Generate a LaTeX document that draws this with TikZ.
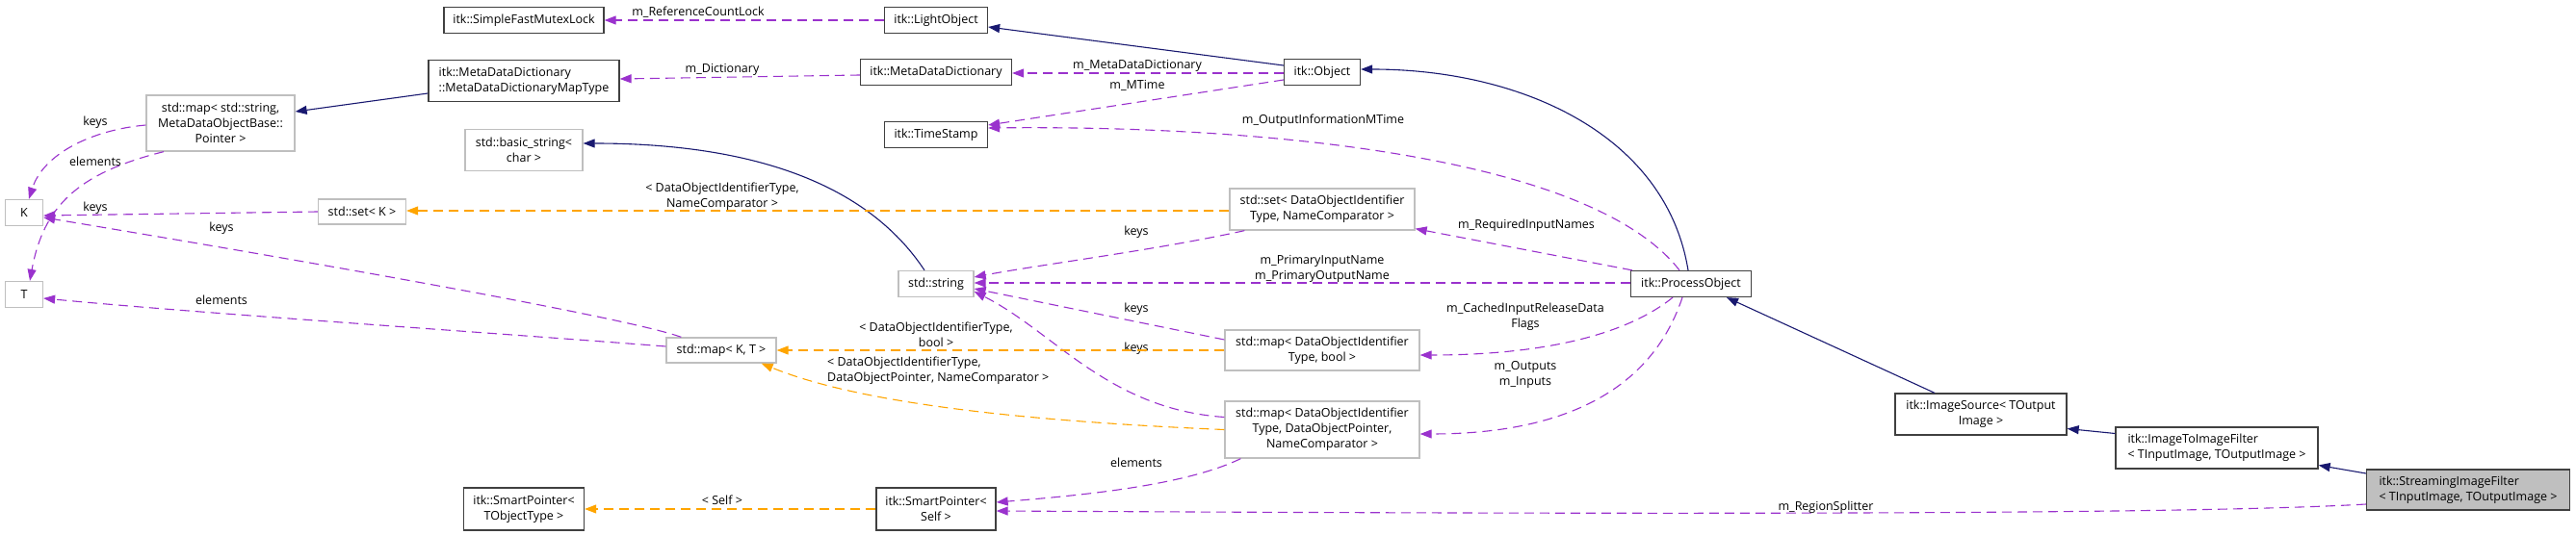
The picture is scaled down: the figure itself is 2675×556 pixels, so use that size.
\documentclass[tikz,border=0pt]{standalone}
\usepackage{fontspec}
\newfontfamily\doxfam{Open Sans}
\usetikzlibrary{arrows.meta,calc}
\definecolor{navyedge}{HTML}{191970}
\definecolor{useedge}{HTML}{9A32CD}
\definecolor{tmpledge}{HTML}{FFA500}
\definecolor{extgray}{HTML}{BFBFBF}
\definecolor{clsborder}{HTML}{404040}
\newcommand{\doxfont}{\doxfam\fontsize{12.5}{16}\selectfont}

\begin{document}
\begin{tikzpicture}[x=1pt, y=-1pt, >={Triangle[length=12pt,width=9pt]},
  cls/.style={draw=clsborder, line width=1.3pt, fill=white, inner sep=2pt, font=\doxfont, align=center},
  ext/.style={cls, draw=extgray},
  inh/.style={->, draw=navyedge, line width=1.1pt},
  use/.style={->, draw=useedge, line width=1.1pt, dash pattern=on 10pt off 6pt},
  tmpl/.style={->, draw=tmpledge, line width=1.1pt, dash pattern=on 10pt off 6pt},
  lbl/.style={font=\doxfont, align=center, inner sep=0pt}]
  \useasboundingbox (0,0) rectangle (2675,556);
  % classes, left part
  \node[cls, minimum width=166, minimum height=27] (mutex) at (544,21) {itk::SimpleFastMutexLock};
  \node[cls, align=left, minimum width=198, minimum height=43] (mdmap) at (544,84) {itk::MetaDataDictionary\\::MetaDataDictionaryMapType};
  \node[ext, minimum width=154, minimum height=58] (strmap) at (229,128) {std::map< std::string,\\MetaDataObjectBase::\\Pointer >};
  \node[ext, minimum width=122, minimum height=43] (bstr) at (544,156) {std::basic\_string<\\char >};
  \node[ext, minimum width=39, minimum height=27] (K) at (25,221) {K};
  \node[ext, minimum width=91, minimum height=26] (setK) at (376,220) {std::set< K >};
  \node[ext, minimum width=39, minimum height=27] (T) at (25,306) {T};
  \node[cls, minimum width=125, minimum height=44] (sptT) at (544,529) {itk::SmartPointer<\\TObjectType >};
  % classes, middle part
  \node[cls, minimum width=107, minimum height=27] (light) at (972,21) {itk::LightObject};
  \node[cls, minimum width=157, minimum height=27] (mdd) at (972,75) {itk::MetaDataDictionary};
  \node[cls, minimum width=107, minimum height=27] (ts) at (972,140) {itk::TimeStamp};
  \node[ext, minimum width=78, minimum height=27] (str) at (972,295) {std::string};
  \node[ext, minimum width=114, minimum height=26] (mapKT) at (749,364) {std::map< K, T >};
  \node[cls, minimum width=124, minimum height=44] (sptS) at (972,529) {itk::SmartPointer<\\Self >};
  \node[cls, minimum width=79, minimum height=27] (obj) at (1373,75) {itk::Object};
  \node[ext, minimum width=192, minimum height=43] (setN) at (1373,217.5) {std::set< DataObjectIdentifier\\Type, NameComparator >};
  \node[ext, minimum width=202, minimum height=42] (mapB) at (1373,364) {std::map< DataObjectIdentifier\\Type, bool >};
  \node[ext, minimum width=202, minimum height=59] (mapP) at (1373,446.5) {std::map< DataObjectIdentifier\\Type, DataObjectPointer,\\NameComparator >};
  % classes, right part
  \node[cls, minimum width=125, minimum height=27] (po) at (1756,295) {itk::ProcessObject};
  \node[cls, minimum width=178, minimum height=43] (isrc) at (2057,430.5) {itk::ImageSource< TOutput\\Image >};
  \node[cls, align=left, minimum width=210, minimum height=43] (i2i) at (2302,465.5) {itk::ImageToImageFilter\\< TInputImage, TOutputImage >};
  \node[cls, align=left, fill=extgray, minimum width=211, minimum height=42] (sif) at (2563,509) {itk::StreamingImageFilter\\< TInputImage, TOutputImage >};
  % inheritance
  \draw[inh] ($(obj.west)+(0,-7)$) -- ($(light.east)+(0,7)$);
  \draw[inh] ($(mdmap.west)+(0,13)$) -- ($(strmap.east)+(0,-12)$);
  \draw[inh] ($(str.north)+(-12,0)$) .. controls (900,190) and (780,149) .. ($(bstr.east)+(0,-7)$);
  \draw[inh] ($(po.north)+(-3,0)$) .. controls (1730,140) and (1580,72) .. ($(obj.east)+(0,-3)$);
  \draw[inh] ($(isrc.north)+(-48,0)$) -- ($(po.south)+(37,0)$);
  \draw[inh] ($(i2i.west)+(0,-15)$) -- ($(isrc.east)+(0,15)$);
  \draw[inh] ($(sif.west)+(0,-17)$) -- ($(i2i.east)+(0,18)$);
  % members
  \draw[use] (light.west) -- (mutex.east);
  \node[lbl] (lRefLock) at (725,13) {m\_ReferenceCountLock};
  \draw[use] ($(mdd.west)+(0,3)$) -- ($(mdmap.east)+(0,-2)$);
  \node[lbl] (lDict) at (750,72) {m\_Dictionary};
  \draw[use] ($(obj.west)+(0,1)$) -- ($(mdd.east)+(0,1)$);
  \node[lbl] (lMdd) at (1181,68) {m\_MetaDataDictionary};
  \draw[use] ($(obj.west)+(0,8)$) -- ($(ts.east)+(0,-10)$);
  \node[lbl] (lMTime) at (1181,89) {m\_MTime};
  \draw[use] ($(po.north)+(-12,0)$) .. controls (1650,160) and (1300,130) .. ($(ts.east)+(0,-7)$);
  \node[lbl] (lOutMTime) at (1374,125) {m\_OutputInformationMTime};
  \draw[use] ($(strmap.west)+(0,2)$) .. controls (95,135) and (45,160) .. ($(K.north)+(5,0)$);
  \node[lbl] (lKeysA) at (99,127) {keys};
  \draw[use] ($(strmap.south)+(-59,0)$) .. controls (80,180) and (45,215) .. ($(T.north)+(6,0)$);
  \node[lbl] (lElemA) at (99,168) {elements};
  \draw[use] (setK.west) -- ($(K.east)+(0,3)$);
  \node[lbl] (lKeysB) at (99,216) {keys};
  \draw[use] ($(mapKT.north west)+(16,0)$) .. controls (660,333) and (400,285) .. ($(K.east)+(0,5)$);
  \node[lbl] (lKeysC) at (230,237) {keys};
  \draw[use] ($(mapKT.west)+(0,-4)$) .. controls (500,345) and (200,325) .. ($(T.east)+(0,4)$);
  \node[lbl] (lElemB) at (230,312) {elements};
  \draw[use] ($(setN.south west)+(16,0)$) .. controls (1200,260) and (1080,275) .. ($(str.east)+(0,-7)$);
  \node[lbl] (lKeysD) at (1180,241) {keys};
  \draw[use] ($(po.west)+(0,-1)$) -- ($(str.east)+(0,-1)$);
  \node[lbl] (lPrimary) at (1373,279) {m\_PrimaryInputName\\m\_PrimaryOutputName};
  \draw[use] ($(po.north west)+(2,0)$) -- ($(setN.south east)+(0,-2)$);
  \node[lbl] (lReq) at (1585,234) {m\_RequiredInputNames};
  \draw[use] ($(mapB.west)+(0,-11)$) -- ($(str.east)+(0,5)$);
  \node[lbl] (lKeysE) at (1180,321) {keys};
  \draw[use] ($(mapP.west)+(0,-13)$) .. controls (1150,425) and (1095,345) .. ($(str.east)+(0,8)$);
  \node[lbl] (lKeysF) at (1180,362) {keys};
  \draw[use] ($(po.south)+(-19,0)$) .. controls (1680,355) and (1580,369) .. ($(mapB.east)+(0,5)$);
  \node[lbl] (lCached) at (1584,329) {m\_CachedInputReleaseData\\Flags};
  \draw[use] ($(po.south)+(-9,0)$) .. controls (1710,420) and (1600,451) .. ($(mapP.east)+(0,4.5)$);
  \node[lbl] (lInOut) at (1584,389) {m\_Outputs\\m\_Inputs};
  \draw[use] ($(mapP.south west)+(17,0)$) .. controls (1230,505) and (1120,515) .. ($(sptS.east)+(0,-7)$);
  \node[lbl] (lElemC) at (1180,481) {elements};
  \draw[use] ($(sif.west)+(0,15)$) .. controls (2250,536) and (1600,534) .. ($(sptS.east)+(0,2)$);
  \node[lbl] (lSplit) at (1896,527) {m\_RegionSplitter};
  % template instances
  \draw[tmpl] ($(setN.west)+(0,1.5)$) -- ($(setK.east)+(0,-1)$);
  \node[lbl] (lTsetN) at (750,204) {< DataObjectIdentifierType,\\NameComparator >};
  \draw[tmpl] (mapB.west) -- (mapKT.east);
  \node[lbl] (lTmapB) at (972,348) {< DataObjectIdentifierType,\\bool >};
  \draw[tmpl] (mapP.west) .. controls (1000,435) and (870,410) .. ($(mapKT.south east)+(-16,0)$);
  \node[lbl, align=left, anchor=west] (lTmapP) at (859,385) {< DataObjectIdentifierType,\\DataObjectPointer, NameComparator >};
  \draw[tmpl] (sptS.west) -- (sptT.east);
  \node[lbl] (lTself) at (750,520) {< Self >};
\end{tikzpicture}
\end{document}
